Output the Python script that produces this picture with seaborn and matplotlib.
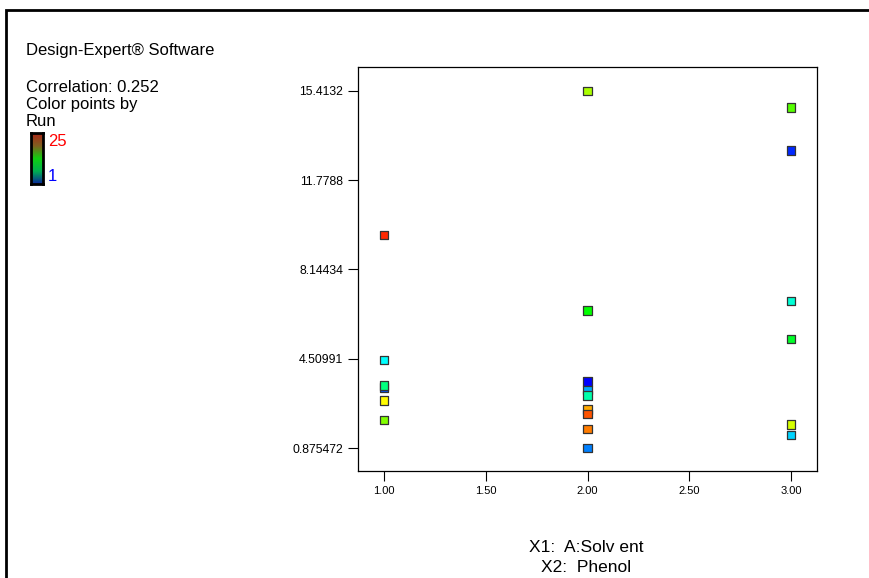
import numpy as np
import pandas as pd
import matplotlib
matplotlib.use("Agg")
import matplotlib.pyplot as plt
import seaborn as sns
from matplotlib.colors import LinearSegmentedColormap
from matplotlib.patches import Rectangle

# ==========================================
# DATA
# ==========================================

solvent = [1, 1, 1, 1, 1, 1,
           2, 2, 2, 2, 2, 2, 2, 2, 2,
           3, 3, 3, 3, 3, 3]
response = [9.55, 4.45, 3.34, 3.42, 2.82, 2.01,
            15.41, 6.47, 3.59, 3.23, 3.01, 2.45, 2.26, 1.65, 0.88,
            14.74, 12.99, 6.86, 5.31, 1.83, 1.41]
run = [24, 7, 3, 10, 19, 16,
       17, 13, 1, 5, 9, 21, 23, 22, 4,
       15, 2, 8, 12, 18, 6]

y_ticks = [0.875472, 4.50991, 8.14434, 11.7788, 15.4132]
y_ticklabels = ["0.875472", "4.50991", "8.14434", "11.7788", "15.4132"]
x_ticks = [1.0, 1.5, 2.0, 2.5, 3.0]
x_ticklabels = ["1.00", "1.50", "2.00", "2.50", "3.00"]

df = pd.DataFrame({"Solvent": solvent, "Response": response, "Run": run})

# ==========================================
# STYLE
# ==========================================

sns.set_style("white")
plt.rcParams["font.family"] = ["Liberation Sans", "DejaVu Sans"]
plt.rcParams["text.color"] = "black"
plt.rcParams["xtick.color"] = "black"
plt.rcParams["ytick.color"] = "black"

run_cmap = LinearSegmentedColormap.from_list(
    "run", ["#0000ff", "#00ffff", "#00ff00", "#ffff00", "#ff0000"]
)

fig = plt.figure(figsize=(8.69, 5.78), dpi=100)

# outer frame
fig.patches.append(Rectangle((6 / 869, -0.05), 1.0, 1 - 10 / 578 + 0.05,
                             transform=fig.transFigure, fill=False,
                             edgecolor="black", linewidth=2))

ax = fig.add_axes([358 / 869, 1 - 471 / 578, 459 / 869, 404 / 578])

sns.scatterplot(
    data=df,
    x="Solvent",
    y="Response",
    hue="Run",
    hue_norm=(1, 25),
    palette=run_cmap,
    marker="s",
    s=38,
    edgecolor="#333333",
    linewidth=0.9,
    legend=False,
    ax=ax
)

ax.set_xlim(0.872, 3.128)
ax.set_ylim(-0.06, 16.38)
ax.set_xticks(x_ticks)
ax.set_xticklabels(x_ticklabels, fontsize=8)
ax.set_yticks(y_ticks)
ax.set_yticklabels(y_ticklabels, fontsize=8.8)
ax.tick_params(axis="both", direction="out", length=7.5, width=0.8,
               color="black", pad=3, left=True, bottom=True)
ax.set_xlabel("")
ax.set_ylabel("")
for side in ax.spines.values():
    side.set_color("black")
    side.set_linewidth(0.9)

# ==========================================
# SIDE TEXT
# ==========================================

fig.text(26 / 869, 1 - 51 / 578, "Design-Expert\u00ae Software",
         fontsize=12, va="center", ha="left")
fig.text(26 / 869, 1 - 87.5 / 578, "Correlation: 0.252",
         fontsize=12, va="center", ha="left")
fig.text(26 / 869, 1 - 105 / 578, "Color points by",
         fontsize=12, va="center", ha="left")
fig.text(26 / 869, 1 - 122 / 578, "Run",
         fontsize=12, va="center", ha="left")

cax = fig.add_axes([31 / 869, 1 - 184 / 578, 12 / 869, 51 / 578])
dark_cmap = LinearSegmentedColormap.from_list(
    "dark", ["#0a2a9a", "#00b050", "#10d010", "#806020", "#a82818"]
)
cax.imshow(np.linspace(0, 1, 50).reshape(-1, 1), cmap=dark_cmap,
           aspect="auto", origin="lower")
cax.set_xticks([])
cax.set_yticks([])
for side in cax.spines.values():
    side.set_color("black")
    side.set_linewidth(2)

fig.text(48 / 869, 1 - 142 / 578, "25", color="#ff0000",
         fontsize=12, va="center", ha="left")
fig.text(48 / 869, 1 - 177 / 578, "1", color="#0000ff",
         fontsize=12, va="center", ha="left")

fig.text(586 / 869, 1 - 548 / 578, "X1:  A:Solv ent",
         fontsize=12.5, va="center", ha="center")
fig.text(586 / 869, 1 - 567 / 578, "X2:  Phenol",
         fontsize=12.5, va="center", ha="center")

plt.savefig("out.png", dpi=100)
